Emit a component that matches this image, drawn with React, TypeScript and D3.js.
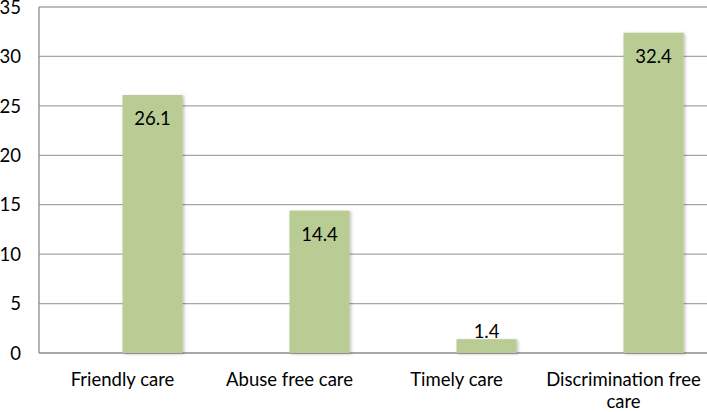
import { scaleBand, scaleLinear } from "d3";

const categories = ["Friendly care", "Abuse free care", "Timely care", "Discrimination free care"];
const seriesKeys = ["blank", "value"];
const values = [26.1, 14.4, 1.4, 32.4];
const yTicks = [0, 5, 10, 15, 20, 25, 30, 35];

const W = 707;
const H = 412;
const left = 39;
const right = 707;
const top = 7;
const bottom = 353;
const font = "Lato, 'Open Sans', sans-serif";
const fs = 18.5;

// wrap long category labels roughly like Excel does
function wrap(label: string, maxChars: number) {
  const words = label.split(" ");
  const lines: string[] = [];
  let cur = "";
  words.forEach((w) => {
    const next = cur ? cur + " " + w : w;
    if (next.length > maxChars && cur) {
      lines.push(cur);
      cur = w;
    } else cur = next;
  });
  if (cur) lines.push(cur);
  return lines;
}

export default function App() {
  const x = scaleBand().domain(categories).range([left, right]).paddingInner(0.28).paddingOuter(0.14);
  const xs = scaleBand().domain(seriesKeys).range([0, x.bandwidth()]);
  const y = scaleLinear().domain([0, 35]).range([bottom, top]);

  return (
    <div style={{ position: "absolute", left: 0, top: 0 }}>
      <svg width={W} height={H} style={{ display: "block", background: "#fff" }}>
        <defs>
          <filter id="sh" x="-20%" y="-20%" width="140%" height="140%">
            <feDropShadow dx="1.5" dy="1" stdDeviation="1.5" floodColor="#000" floodOpacity="0.25" />
          </filter>
        </defs>

        {/* gridlines */}
        {yTicks.map((t) => (
          <line key={t} x1={left} x2={right} y1={y(t)} y2={y(t)} stroke={t === 0 ? "#8c8c8c" : "#a6a6a6"} strokeWidth={1.3} />
        ))}
        <line x1={left} x2={left} y1={top} y2={bottom} stroke="#8c8c8c" strokeWidth={1.3} />

        {/* y tick labels */}
        {yTicks.map((t) => (
          <text key={t} x={21} y={y(t)} dy="0.36em" textAnchor="end" fontFamily={font} fontSize={fs} fill="#000">
            {t}
          </text>
        ))}

        {/* bars */}
        {categories.map((c, i) => {
          const bx = x(c)! + xs("value")!;
          const bw = xs.bandwidth();
          const by = y(values[i]);
          const bh = bottom - by;
          const inside = bh > 40;
          return (
            <g key={c}>
              <rect x={bx} y={by} width={bw} height={bh} fill="#b9cc93" filter="url(#sh)" />
              <text
                x={bx + bw / 2}
                y={inside ? by + 23.5 : by - 1.5}
                dy={inside ? "0.36em" : 0}
                textAnchor="middle"
                fontFamily={font}
                fontSize={fs}
                fill="#000"
              >
                {values[i]}
              </text>
            </g>
          );
        })}

        {/* category labels */}
        {categories.map((c) => {
          const lines = wrap(c, 19);
          return (
            <text key={c} textAnchor="middle" fontFamily={font} fontSize={fs} fill="#000">
              {lines.map((l, j) => (
                <tspan key={j} x={x(c)! + x.bandwidth() / 2} y={386 + j * 22}>
                  {l}
                </tspan>
              ))}
            </text>
          );
        })}
      </svg>
    </div>
  );
}
